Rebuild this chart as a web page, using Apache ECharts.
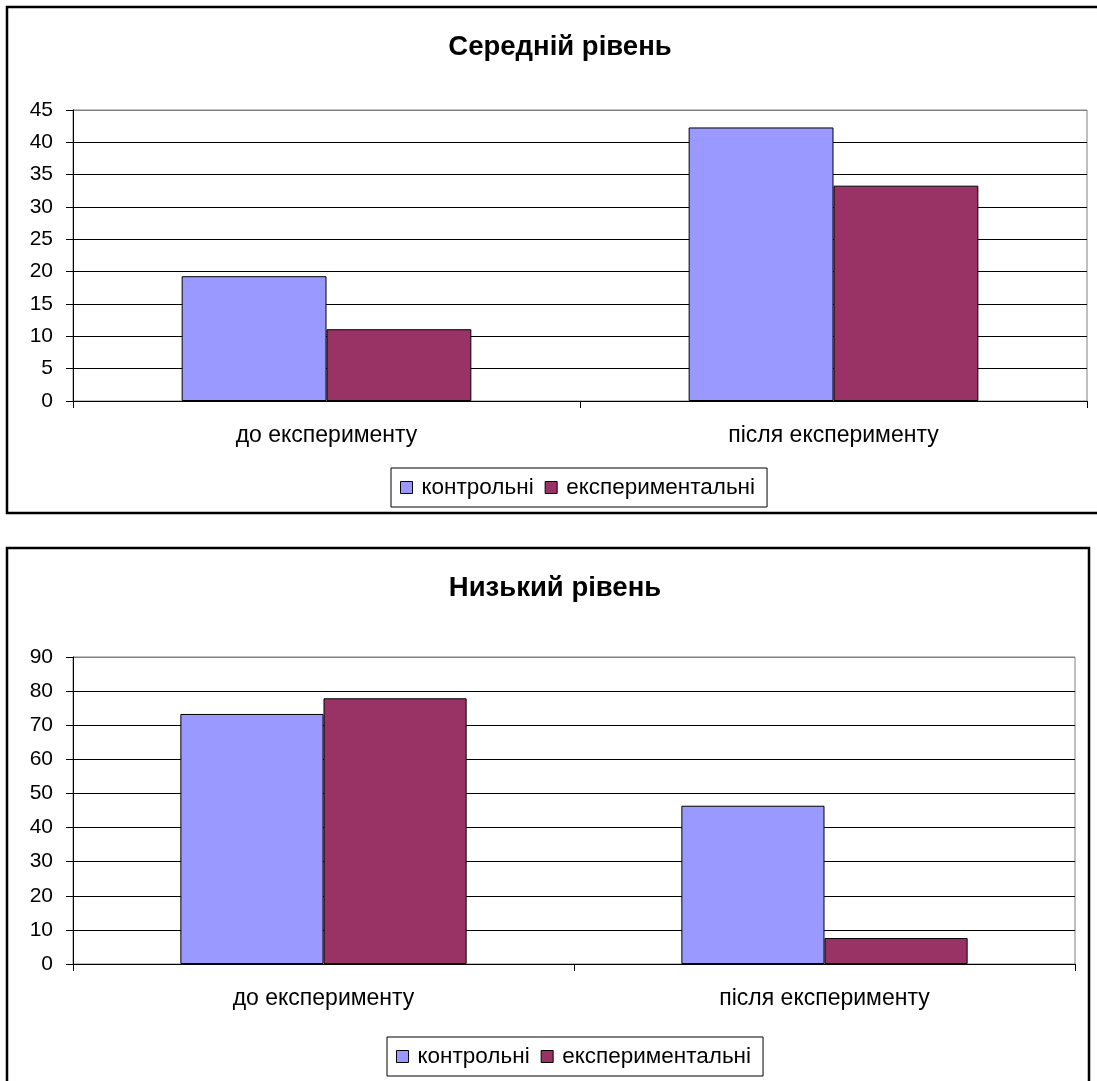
<!DOCTYPE html>
<html>
<head>
<meta charset="utf-8">
<style>
  html, body { margin: 0; padding: 0; background: #ffffff; }
  #chart { width: 1097px; height: 1081px; }
</style>
<script src="https://cdn.jsdelivr.net/npm/echarts@6/dist/echarts.min.js"></script>
</head>
<body>
<div id="chart"></div>
<script>
// Categories and series (percent of pupils)
const categories = ['до експерименту', 'після експерименту'];
const seriesNames = ['контрольні', 'експериментальні'];

// "Середній рівень"
const midControl = [19.3, 42.3];
const midExperimental = [11.1, 33.3];

// "Низький рівень"
const lowControl = [73.3, 46.4];
const lowExperimental = [77.9, 7.6];

const titles = ['Середній рівень', 'Низький рівень'];

const colors = ['#9999FF', '#993366'];
const FONT = 'Liberation Sans, Arial, sans-serif';

// every split line is black except the top one, which is part of the grey plot frame
function splitColors(n) {
  const arr = [];
  for (let i = 0; i < n; i++) arr.push(i === n - 1 ? '#808080' : '#000000');
  return arr;
}

function xAxisCfg(gridIndex) {
  return {
    type: 'category',
    gridIndex: gridIndex,
    data: categories,
    axisLine: { lineStyle: { color: '#000', width: 1 } },
    axisTick: { show: true, alignWithLabel: false, length: 7, lineStyle: { color: '#000', width: 1 } },
    axisLabel: { color: '#000', fontSize: 23, fontFamily: FONT, margin: 23 },
    splitLine: { show: false }
  };
}

function yAxisCfg(gridIndex, max, interval) {
  const n = max / interval + 1;
  return {
    type: 'value',
    gridIndex: gridIndex,
    min: 0, max: max, interval: interval,
    axisLine: { show: true, lineStyle: { color: '#000', width: 1 } },
    axisTick: { show: true, length: 7, lineStyle: { color: '#000', width: 1 } },
    axisLabel: { color: '#000', fontSize: 21, fontFamily: FONT, margin: 20 },
    splitLine: { show: true, lineStyle: { color: splitColors(n), width: 1 } }
  };
}

function barSeries(name, data, idx, axisIdx) {
  return {
    type: 'bar',
    name: name,
    xAxisIndex: axisIdx,
    yAxisIndex: axisIdx,
    data: data,
    barGap: '0%',
    barCategoryGap: '42.86%',
    itemStyle: { color: colors[idx], borderColor: '#000', borderWidth: 1 },
    emphasis: { disabled: true },
    animation: false
  };
}

function legendCfg(left, top) {
  return {
    left: left, top: top,
    orient: 'horizontal',
    data: seriesNames.map(n => ({ name: n, icon: 'rect', itemStyle: { borderColor: '#000', borderWidth: 1 } })),
    itemWidth: 12, itemHeight: 12,
    itemGap: 11,
    borderColor: '#000', borderWidth: 1,
    padding: [8, 12, 8, 9],
    textStyle: { color: '#000', fontSize: 22.5, fontFamily: FONT, padding: [0, 0, 0, 4] },
    selectedMode: false
  };
}

const chart = echarts.init(document.getElementById('chart'), null, { renderer: 'canvas' });

chart.setOption({
  backgroundColor: '#ffffff',
  animation: false,
  color: colors,
  title: [
    { text: titles[0], left: 555, top: 28, textAlign: 'center',
      textStyle: { fontSize: 27.5, fontWeight: 'bold', color: '#000', fontFamily: FONT } },
    { text: titles[1], left: 550, top: 569, textAlign: 'center',
      textStyle: { fontSize: 27.5, fontWeight: 'bold', color: '#000', fontFamily: FONT } }
  ],
  legend: [legendCfg(391, 468), legendCfg(387, 1037)],
  grid: [
    { left: 73, top: 110, width: 1014, height: 291, show: true, borderColor: '#808080', borderWidth: 1, containLabel: false },
    { left: 73, top: 657, width: 1002, height: 307, show: true, borderColor: '#808080', borderWidth: 1, containLabel: false }
  ],
  xAxis: [xAxisCfg(0), xAxisCfg(1)],
  yAxis: [yAxisCfg(0, 45, 5), yAxisCfg(1, 90, 10)],
  series: [
    barSeries(seriesNames[0], midControl, 0, 0),
    barSeries(seriesNames[1], midExperimental, 1, 0),
    barSeries(seriesNames[0], lowControl, 0, 1),
    barSeries(seriesNames[1], lowExperimental, 1, 1)
  ],
  graphic: [
    // outer frames of the two charts
    { type: 'rect', shape: { x: 7, y: 7, width: 1110, height: 506 }, style: { fill: 'none', stroke: '#000', lineWidth: 2.5 }, silent: true, z: -1 },
    { type: 'rect', shape: { x: 7, y: 548, width: 1082, height: 560 }, style: { fill: 'none', stroke: '#000', lineWidth: 2.5 }, silent: true, z: -1 }
  ]
});
</script>
</body>
</html>
